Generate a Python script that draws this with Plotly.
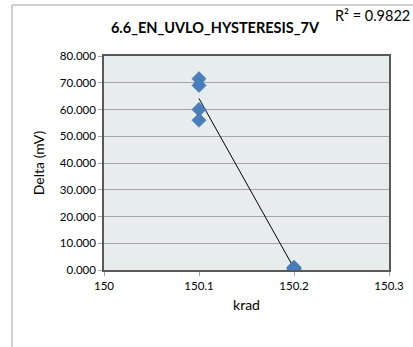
import numpy as np
import plotly.graph_objects as go

# Data
krad = [150.1, 150.1, 150.1, 150.1, 150.2, 150.2, 150.2, 150.2]
delta_mv = [71.5, 69.0, 60.0, 56.0, 0.6, 1.0, 0.3, 0.8]
x_ticks = [150, 150.1, 150.2, 150.3]
y_ticks = [0, 10, 20, 30, 40, 50, 60, 70, 80]
title_text = "6.6_EN_UVLO_HYSTERESIS_7V"
r2_text = "R² = 0.9822"

# Linear trendline computed from the data
coef = np.polyfit(krad, delta_mv, 1)
tx = [min(krad), max(krad)]
ty = [coef[0] * v + coef[1] for v in tx]

W, H = 413, 347
ml, mr, mt, mb = 104, 24, 56, 77
pw, ph = W - ml - mr, H - mt - mb

def px_x(p):
    return (p - ml) / pw

def px_y(p):
    return (H - mb - p) / ph

fig = go.Figure()
fig.add_trace(go.Scatter(
    x=tx, y=ty, mode="lines",
    line=dict(color="black", width=1), showlegend=False, hoverinfo="skip"))
fig.add_trace(go.Scatter(
    x=krad, y=delta_mv, mode="markers",
    marker=dict(symbol="diamond", size=11, color="#4A7EBB",
                line=dict(color="#3F71AE", width=0.5)),
    showlegend=False))

font_family = "Lato, 'Open Sans', Arial, sans-serif"

fig.update_layout(
    width=W, height=H,
    margin=dict(l=ml, r=mr, t=mt, b=mb),
    paper_bgcolor="white",
    plot_bgcolor="#E7ECEC",
    font=dict(family=font_family, size=11, color="black"),
    title=dict(text="<b>" + title_text + "</b>", x=215 / W, xanchor="center",
               y=1 - 28 / H, yanchor="middle", yref="container",
               font=dict(size=14.5, family=font_family, color="black")),
    xaxis=dict(range=[150, 150.3], tickvals=x_ticks,
               ticktext=[str(v) for v in x_ticks],
               showgrid=False, zeroline=False, automargin=False,
               showline=True, linecolor="#595959", linewidth=1.5, mirror=True,
               ticks="outside", ticklen=4, tickcolor="#A0A0A0",
               tickfont=dict(size=11.5),
               title=dict(text="krad", font=dict(size=14), standoff=10)),
    yaxis=dict(range=[0, 80], tickvals=y_ticks, tickformat=".3f",
               showgrid=True, gridcolor="#A6A6A6", gridwidth=1.2,
               zeroline=False, automargin=False,
               showline=True, linecolor="#595959", linewidth=1.5, mirror=True,
               ticks="outside", ticklen=4, tickcolor="#A0A0A0",
               tickfont=dict(size=11.5),
               title=dict(text="Delta (mV)", font=dict(size=14), standoff=12)),
    annotations=[dict(text=r2_text, xref="paper", yref="paper",
                      x=px_x(333), y=px_y(16), xanchor="left", yanchor="middle",
                      showarrow=False, font=dict(size=14.5))],
    shapes=[
        dict(type="line", xref="paper", yref="paper",
             x0=px_x(12), x1=px_x(12), y0=px_y(5), y1=px_y(H + 5),
             line=dict(color="#BFBFBF", width=1.5)),
        dict(type="line", xref="paper", yref="paper",
             x0=px_x(12), x1=px_x(W + 5), y0=px_y(5), y1=px_y(5),
             line=dict(color="#BFBFBF", width=1.5)),
    ],
)

fig.write_html("out.html",
               config={"displayModeBar": False},
               post_script="document.body.style.margin='0';document.body.style.overflow='hidden';")
